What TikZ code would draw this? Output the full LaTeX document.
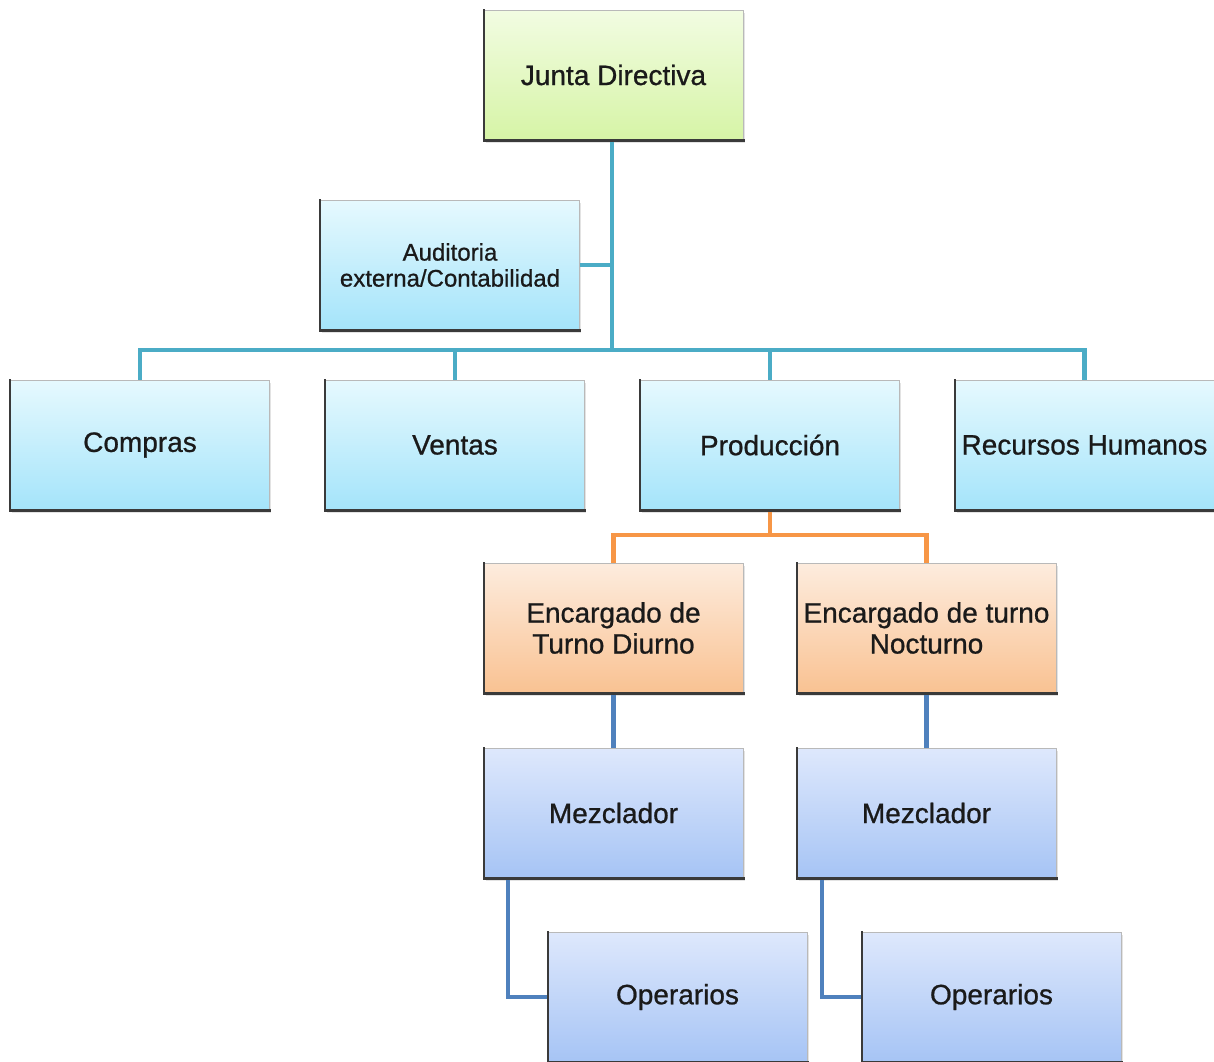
\documentclass[tikz,border=0pt]{standalone}
\usepackage{fontspec}
\setmainfont{Liberation Sans}[FakeBold=0.8]
\usetikzlibrary{shadows}
\definecolor{cline}{HTML}{4BACC6}
\definecolor{oline}{HTML}{F79646}
\definecolor{bline}{HTML}{4F81BD}
\definecolor{edgedark}{HTML}{3A3A3A}
\definecolor{txt}{HTML}{1A1A1A}
\tikzset{
  box/.style={rectangle, minimum width=259pt, minimum height=130pt, inner sep=0pt,
    draw=gray!55, line width=0.8pt, align=center, text=txt,
    font=\fontsize{28}{31}\selectfont,
    drop shadow={shadow xshift=1.5pt, shadow yshift=-3pt, opacity=0.22}},
  greenbox/.style={box, top color={rgb,255:red,242;green,252;blue,226}, bottom color={rgb,255:red,214;green,244;blue,166}},
  cyanbox/.style={box, top color={rgb,255:red,230;green,249;blue,254}, bottom color={rgb,255:red,164;green,228;blue,250}},
  orangebox/.style={box, top color={rgb,255:red,253;green,236;blue,222}, bottom color={rgb,255:red,249;green,194;blue,146}},
  bluebox/.style={box, top color={rgb,255:red,222;green,232;blue,252}, bottom color={rgb,255:red,166;green,196;blue,245}},
  darkedge/.style={draw=edgedark, line width=2.2pt},
  cconn/.style={draw=cline, line width=4.5pt},
  oconn/.style={draw=oline, line width=4.5pt},
  bconn/.style={draw=bline, line width=4.5pt},
}
\begin{document}
\begin{tikzpicture}[x=1pt,y=-1pt]
\useasboundingbox (0,0) rectangle (1214,1061);
\coordinate (bus) at (612,350);
\coordinate (porange) at (770,535);
\coordinate (op1c) at (508,997);
\coordinate (op2c) at (822,997);

\node[greenbox] (junta) at (613.5,75) {Junta Directiva};
\node[cyanbox, font=\fontsize{24}{26}\selectfont] (aud) at (450,265) {Auditoria\\externa/Contabilidad};
\node[cyanbox] (compras) at (140,445) {Compras};
\node[cyanbox] (ventas) at (455,445) {Ventas};
\node[cyanbox] (prod) at (770,445) {Producción};
\node[cyanbox] (rh) at (1084.5,445) {Recursos Humanos};
\node[orangebox] (enc1) at (613.5,628) {Encargado de\\Turno Diurno};
\node[orangebox] (enc2) at (926.5,628) {Encargado de turno\\Nocturno};
\node[bluebox] (mez1) at (613.5,813) {Mezclador};
\node[bluebox] (mez2) at (926.5,813) {Mezclador};
\node[bluebox] (op1) at (677.5,997) {Operarios};
\node[bluebox] (op2) at (991.5,997) {Operarios};

% cyan tree
\path[cconn] (junta.south -| bus) -- (bus);
\path[cconn] (aud.east) -- (aud.east -| bus);
\path[cconn] (compras.north) -- (compras.north |- bus) -- (rh.north |- bus) -- (rh.north);
\path[cconn] (ventas.north) -- (ventas.north |- bus);
\path[cconn] (prod.north) -- (prod.north |- bus);
% orange tree
\path[oconn] (prod.south) -- (porange);
\path[oconn] (enc1.north) -- (enc1.north |- porange) -- (enc2.north |- porange) -- (enc2.north);
% blue tree
\path[bconn] (enc1.south) -- (mez1.north);
\path[bconn] (enc2.south) -- (mez2.north);
\path[bconn] (mez1.south -| op1c) -- (op1c) -- (op1.west);
\path[bconn] (mez2.south -| op2c) -- (op2c) -- (op2.west);

% dark left/bottom edges
\foreach \n in {junta,aud,compras,ventas,prod,rh,enc1,enc2,mez1,mez2,op1,op2}{
  \draw[darkedge, line cap=rect] (\n.north west) -- (\n.south west) -- (\n.south east);
}
\end{tikzpicture}
\end{document}
